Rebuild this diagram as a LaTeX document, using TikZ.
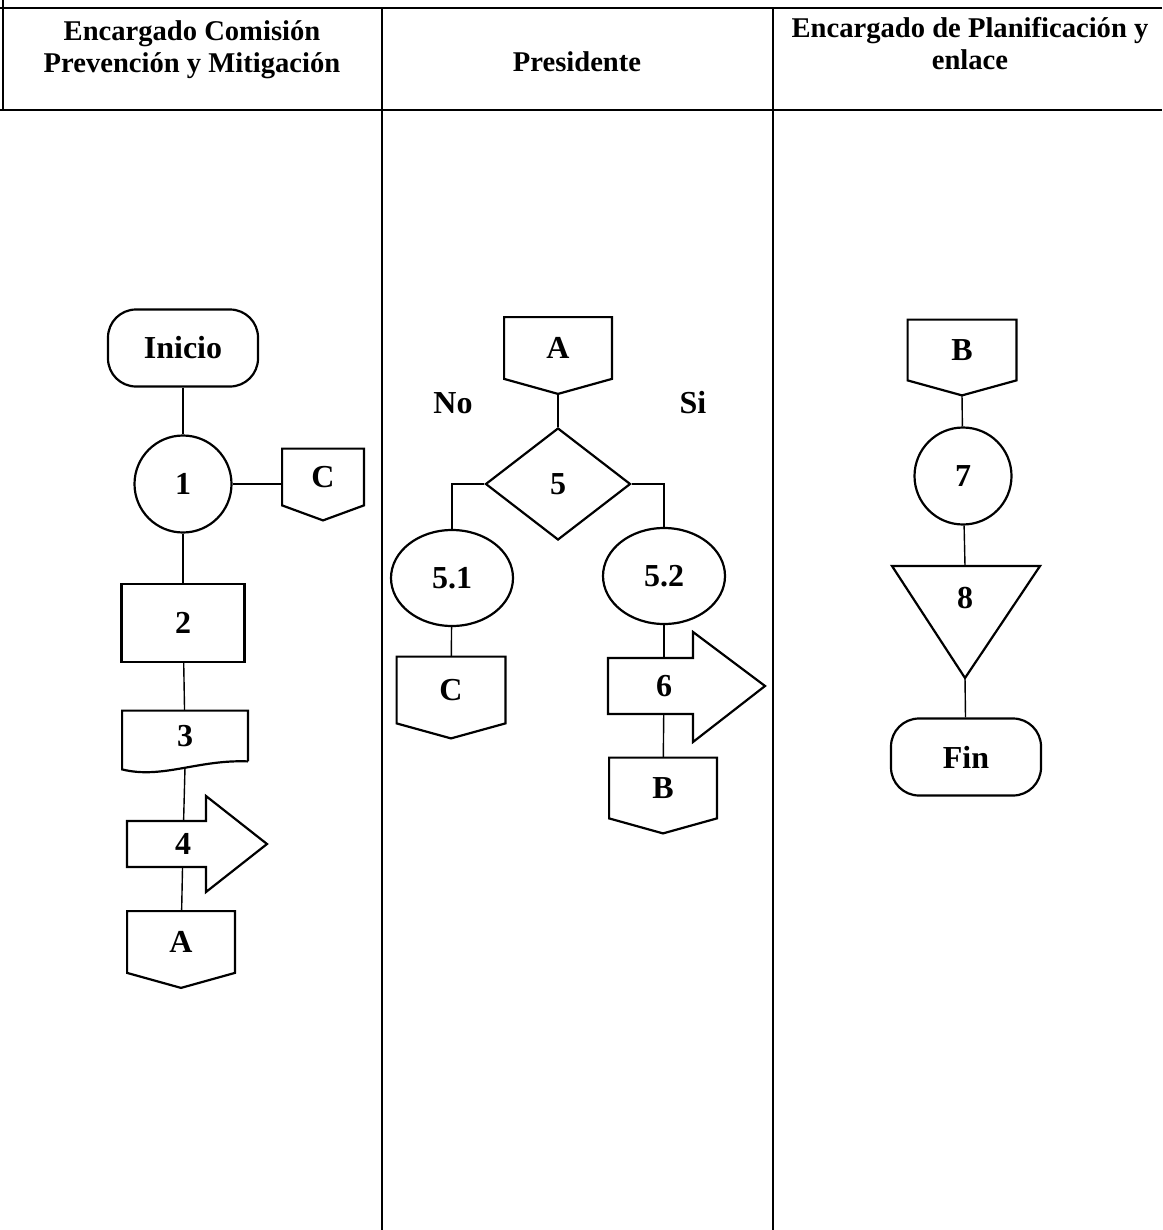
\documentclass[tikz,border=0pt]{standalone}
\usepackage{fontspec}
\setmainfont{Liberation Serif}
\usepackage{tikz}
\usetikzlibrary{shapes.geometric}
\tikzstyle{connector} = [line width=0.7pt]
\tikzstyle{lane} = [line width=0.7pt]
\tikzstyle{outline} = [line width=1.1pt]
\tikzstyle{lanetitle} = [align=center, font=\fontsize{14.3}{16}\selectfont\bfseries]
\tikzstyle{terminal} = [rectangle, rounded corners=14pt, draw, line width=1.1pt, minimum width=75pt, minimum height=38.5pt]
\tikzstyle{activity} = [circle, draw, line width=1.1pt, minimum size=48.5pt, inner sep=0pt]
\tikzstyle{operation} = [rectangle, draw, line width=1.1pt, minimum width=61.5pt, minimum height=39pt]
\tikzstyle{decision} = [diamond, draw, line width=1.1pt, minimum width=72.5pt, minimum height=56pt, inner sep=0pt]
\tikzstyle{subactivity} = [ellipse, draw, line width=1.1pt, minimum width=61pt, minimum height=48pt, inner sep=0pt]
\tikzstyle{shapebox} = [rectangle, inner sep=0pt]

% conector de pagina: rectangulo con punta hacia abajo
\newcommand{\offpage}[5]{%
  \node (#1) [shapebox, minimum width=#3, minimum height=#4] at #2 {#5};
  \draw [outline] (#1.north west) -- (#1.north east) -- (#1.south east)
    -- ([yshift=-7.5pt]#1.south) -- (#1.south west) -- cycle;
}

\begin{document}
\begin{tikzpicture}[x=0.5pt, y=-0.5pt, every node/.style={font=\fontsize{16}{19}\selectfont\bfseries}]
  \useasboundingbox (0,0) rectangle (1162,1230);

  % tabla
  \draw [lane] (0,8) -- (1162,8);
  \draw [lane] (3,0) -- (3,110);
  \draw [lane] (0,110) -- (1162,110);
  \draw [lane] (382,8) -- (382,1230);
  \draw [lane] (773,8) -- (773,1230);

  \node (lane1) [lanetitle] at (192,50) {Encargado Comisión\\Prevención y Mitigación};
  \node (lane2) [lanetitle] at (577,62) {Presidente};
  \node (lane3) [lanetitle] at (970,44) {Encargado de Planificación y\\enlace};

  % columna 1
  \node (inicio) [terminal] at (183,348) {Inicio};
  \node (1) [activity] at (183,484) {1};
  \offpage{c1}{(323,477)}{40.5pt}{28pt}{C}
  \node (2) [operation] at (183,623) {2};
  \node (3) [shapebox, minimum width=62.5pt, minimum height=25pt] at (185,736) {3};
  \draw [outline] (3.south east) -- (3.north east) -- (3.north west)
    -- ([yshift=-4pt]3.south west) .. controls +(40,10) and +(-50,-2) .. (3.south east);
  \node (4) [shapebox, minimum width=20pt, minimum height=23pt] at (183,844) {4};
  \draw [outline, shift={(4.center)}] (-56,-23) -- (23,-23) -- (23,-48) -- (84,0)
    -- (23,48) -- (23,23) -- (-56,23) -- cycle;
  \offpage{a1}{(181,942)}{53.5pt}{30.5pt}{A}

  \draw [connector] (inicio) -- (1);
  \draw [connector] (1.east) -- (1.east -| c1.west);
  \draw [connector] (1) -- (2);
  \draw [connector] (2) -- (3);
  \draw [connector] ([yshift=-3pt]3.south) -- (4);
  \draw [connector] (4) -- (a1);

  % columna 2
  \offpage{a2}{(558,348)}{53.5pt}{30.5pt}{A}
  \node (no) at (453,403) {No};
  \node (si) at (693,403) {Si};
  \node (5) [decision] at (558,484) {5};
  \node (51) [subactivity] at (452,578) {5.1};
  \node (52) [subactivity] at (664,576) {5.2};
  \offpage{c2}{(451,690)}{54pt}{33pt}{C}
  \node (6) [shapebox, minimum width=20pt, minimum height=28pt] at (664,686) {6};
  \draw [outline, shift={(6.center)}] (-56,-28) -- (29,-28) -- (29,-54) -- (101,0)
    -- (29,56) -- (29,28) -- (-56,28) -- cycle;
  \offpage{b2}{(663,788)}{53.5pt}{30pt}{B}

  \draw [connector] ([yshift=-7.5pt]a2.south) -- (5);
  \draw [connector] (5.west) -| (51);
  \draw [connector] (5.east) -| (52);
  \draw [connector] (51) -- (c2);
  \draw [connector] (52) -- (6);
  \draw [connector] (6) -- (b2);

  % columna 3
  \offpage{b3}{(962,350)}{54pt}{30pt}{B}
  \node (7) [activity] at (963,476) {7};
  \node (8) [shapebox] at (965,598) {8};
  \draw [outline, shift={(8.center)}] (-73,-32) -- (75,-32) -- (0,80) -- cycle;
  \node (fin) [terminal] at (966,757) {Fin};

  \draw [connector] ([yshift=-7.5pt]b3.south) -- (7);
  \draw [connector] (7) -- ([yshift=16pt]8.center);
  \draw [connector] ([yshift=-40pt]8.center) -- (fin);
\end{tikzpicture}
\end{document}
